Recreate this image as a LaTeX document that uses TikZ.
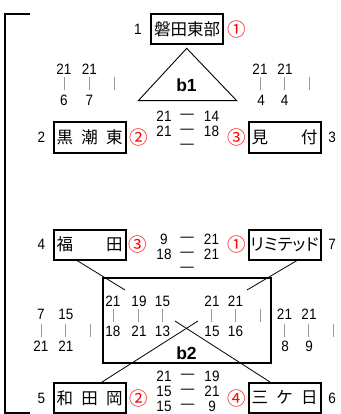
\documentclass[tikz,border=0pt]{standalone}
\usepackage{fontspec}
\setmainfont{Liberation Sans}
\newfontfamily\numf[FakeStretch=0.9]{Liberation Sans}
\newfontfamily\jp{Noto Sans CJK JP}
\newfontfamily\jpp[RawFeature=+palt]{Noto Sans CJK JP}
\newcommand\fsz[1]{\fontsize{#1}{#1}\selectfont}
\begin{document}
\begin{tikzpicture}[x=1pt,y=-1pt,
  box/.style={draw,line width=2pt,minimum width=72pt,minimum height=30pt,inner sep=0pt,font=\jp\fsz{16.5}},
  num/.style={inner sep=0pt,font=\numf\fsz{15}},
  circ/.style={inner sep=0pt,text=red,font=\jp\fsz{18.5}},
  bar/.style={draw=black!40,line width=1pt},
  lbl/.style={inner sep=0pt,font=\bfseries\fsz{17.5}},
  link/.style={draw,line width=0.8pt}]
\useasboundingbox (0,0) rectangle (340,414);
% bracket
\draw[line width=2pt] (30,14) -- (5,14) -- (5,413) -- (30,413);
% triangle b1
\draw[line width=0.9pt] (186.7,48.3) -- (138.3,100.7) -- (236.7,100.7) -- cycle;
\node[lbl] (b1) at (186.5,85) {b1};
% b2 box
\node[draw,line width=2pt,minimum width=168pt,minimum height=85pt,inner sep=0pt] (b2box) at (186.7,320.8) {};
\node[lbl] (b2) at (186.5,353) {b2};
% team boxes
\node[box] (tb) at (187,29) {磐田東部};
\node[box] (kuro) at (89.5,137.5) {\makebox[66pt][s]{黒\hfill{}潮\hfill{}東}};
\node[box] (mits) at (284.5,137.5) {\makebox[66pt][s]{見\hfill{}付}};
\node[box] (fuku) at (89.5,244.5) {\makebox[66pt][s]{福\hfill{}田}};
\node[box,font=\jpp\fsz{16.5}] (rimi) at (284.5,244.5) {リミテッド\hspace{4pt}};
\node[box] (wada) at (89.5,398) {\makebox[66pt][s]{和\hfill{}田\hfill{}岡}};
\node[box] (mikk) at (284.5,398) {\makebox[66pt][s]{三\hfill{}ケ\hfill{}日}};
% seed numbers
\node[num] (n1) at (138,29) {1};
\node[num] (n2) at (41.5,137.5) {2};
\node[num] (n3) at (332,137.5) {3};
\node[num] (n4) at (41.5,244.5) {4};
\node[num] (n7) at (332,244.5) {7};
\node[num] (n5) at (41.5,398) {5};
\node[num] (n6) at (332,398) {6};
% ranks
\node[circ] (r1) at (237,29) {①};
\node[circ] (r2) at (138.5,137.5) {②};
\node[circ] (r3) at (236.5,137.5) {③};
\node[circ] (r4) at (137.5,244.5) {③};
\node[circ] (r5) at (236.5,244.5) {①};
\node[circ] (r6) at (138.5,398) {②};
\node[circ] (r7) at (236.5,398) {④};
% links in block b2
\coordinate (fa) at (125,290);
\coordinate (ra) at (247,290);
\coordinate (wa) at (198,321);
\coordinate (ma) at (175,321);
\draw[link] ([xshift=-12.5pt]fuku.south) -- (fa);
\draw[link] ([xshift=12.5pt]rimi.south) -- (ra);
\draw[link] ([xshift=12.5pt]wada.north) -- (wa);
\draw[link] ([xshift=-14.5pt]mikk.north) -- (ma);
% top-left scores
\node[num] (a1) at (64,69.5) {21};
\node[num] (a2) at (89.5,69.5) {21};
\node[num] (a3) at (64,100) {6};
\node[num] (a4) at (89.5,100) {7};
\draw[bar] (64,77) -- (64,90);
\draw[bar] (89.5,77) -- (89.5,90);
\draw[bar] (114,77) -- (114,90);
% top-right scores
\node[num] (c1) at (260,69.5) {21};
\node[num] (c2) at (285,69.5) {21};
\node[num] (c3) at (261,100) {4};
\node[num] (c4) at (284.5,100) {4};
\draw[bar] (260,77) -- (260,90);
\draw[bar] (284,77) -- (284,90);
\draw[bar] (309,77) -- (309,90);
% center scores 1
\node[num] (d1) at (164,116) {21};
\node[num] (d2) at (187,116) {—};
\node[num] (d3) at (211.5,116) {14};
\node[num] (d4) at (164,131) {21};
\node[num] (d5) at (187,131) {—};
\node[num] (d6) at (211.5,131) {18};
\node[num] (d7) at (187,146) {—};
% center scores 2
\node[num] (e1) at (164,239) {9};
\node[num] (e2) at (187,239) {—};
\node[num] (e3) at (211.5,239) {21};
\node[num] (e4) at (164,254) {18};
\node[num] (e5) at (187,254) {—};
\node[num] (e6) at (211.5,254) {21};
\node[num] (e7) at (187,269) {—};
% center scores 3
\node[num] (f1) at (164,376.5) {21};
\node[num] (f2) at (187.5,376.5) {—};
\node[num] (f3) at (212,376.5) {19};
\node[num] (f4) at (164,391.5) {15};
\node[num] (f5) at (187.5,391.5) {—};
\node[num] (f6) at (212,391.5) {21};
\node[num] (f7) at (164,406.5) {15};
\node[num] (f8) at (187.5,406.5) {—};
\node[num] (f9) at (212,406.5) {9};
% b2 inner scores
\node[num] (g1) at (113,301) {21};
\node[num] (g2) at (139,301) {19};
\node[num] (g3) at (162.5,301) {15};
\node[num] (g4) at (212,301) {21};
\node[num] (g5) at (235.5,301) {21};
\node[num] (h1) at (113,331) {18};
\node[num] (h2) at (139,331) {21};
\node[num] (h3) at (162.5,331) {13};
\node[num] (h4) at (212,331) {15};
\node[num] (h5) at (235.5,331) {16};
\foreach \x in {113,138,162.5,211,235,260} \draw[bar] (\x,309) -- (\x,322);
% bottom-left scores
\node[num] (k1) at (41,314) {7};
\node[num] (k2) at (66,314) {15};
\node[num] (k3) at (41,346) {21};
\node[num] (k4) at (66,346) {21};
\foreach \x in {41,65.5,90} \draw[bar] (\x,324) -- (\x,337);
% bottom-right scores
\node[num] (m1) at (284.5,314) {21};
\node[num] (m2) at (309,314) {21};
\node[num] (m3) at (285,346) {8};
\node[num] (m4) at (309,346) {9};
\foreach \x in {284,308.5,333} \draw[bar] (\x,324) -- (\x,337);
\end{tikzpicture}
\end{document}
